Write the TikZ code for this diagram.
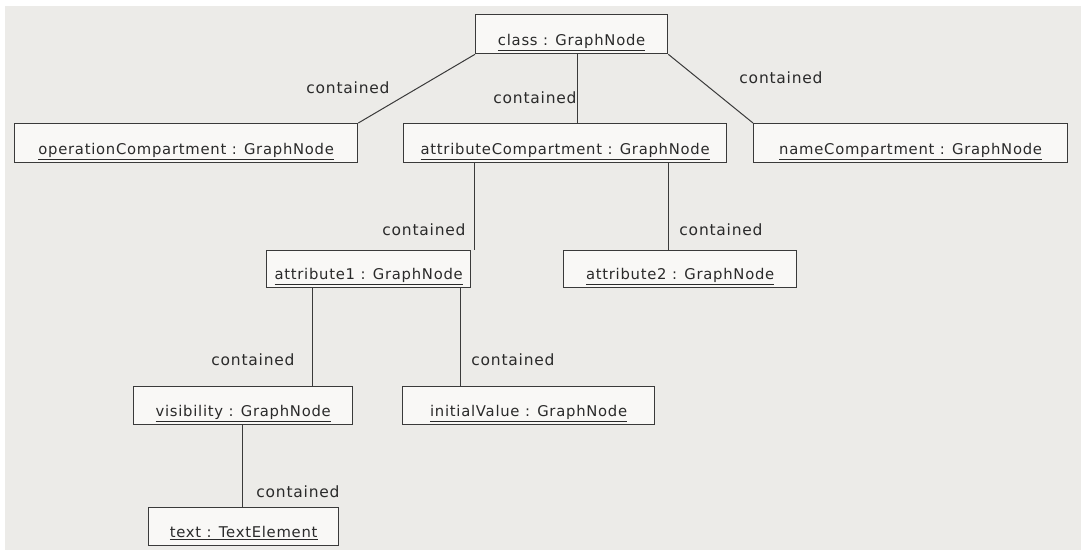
\documentclass[tikz,border=0pt]{standalone}
\usepackage{fontspec}
\setmainfont[LetterSpace=5]{DejaVu Sans}
\definecolor{bg}{HTML}{ECEBE8}
\definecolor{boxfill}{HTML}{F9F8F6}
\definecolor{edge}{HTML}{3A3A3A}
\definecolor{txt}{HTML}{2A2A2A}
\begin{document}
\begin{tikzpicture}[x=1pt,y=-1pt,
  obj/.style={draw=edge, line width=1.3pt, fill=boxfill, inner sep=0pt, anchor=north west},
  objtext/.style={anchor=base, inner sep=0pt, font=\fontsize{14.8}{17}\selectfont, text=txt},
  lbl/.style={inner sep=0pt, font=\fontsize{15.5}{17}\selectfont, text=txt},
  conn/.style={draw=edge, line width=1pt}]
\useasboundingbox (0,0) rectangle (1081,550);
\fill[white] (0,0) rectangle (1081,550);
\fill[bg] (5,6) rectangle (1081,550);
% boxes
\node[obj, minimum width=192pt, minimum height=39pt] (class) at (475,14) {};
\node[obj, minimum width=343pt, minimum height=39pt] (opc) at (14,123) {};
\node[obj, minimum width=323pt, minimum height=39pt] (atc) at (403,123) {};
\node[obj, minimum width=314pt, minimum height=39pt] (nmc) at (753,123) {};
\node[obj, minimum width=204pt, minimum height=37pt] (at1) at (266,250) {};
\node[obj, minimum width=233pt, minimum height=37pt] (at2) at (563,250) {};
\node[obj, minimum width=219pt, minimum height=38pt] (vis) at (133,386) {};
\node[obj, minimum width=252pt, minimum height=38pt] (ini) at (402,386) {};
\node[obj, minimum width=190pt, minimum height=38pt] (txe) at (148,507) {};
% texts
\node[objtext] (tclass) at ([yshift=9pt]class.south) {\underline{class : GraphNode}};
\node[objtext] (topc) at ([yshift=9pt]opc.south) {\underline{operationCompartment : GraphNode}};
\node[objtext] (tatc) at ([yshift=9pt]atc.south) {\underline{attributeCompartment : GraphNode}};
\node[objtext] (tnmc) at ([yshift=9pt]nmc.south) {\underline{nameCompartment : GraphNode}};
\node[objtext] (tat1) at ([yshift=9pt]at1.south) {\underline{attribute1 : GraphNode}};
\node[objtext] (tat2) at ([yshift=9pt]at2.south) {\underline{attribute2 : GraphNode}};
\node[objtext] (tvis) at ([yshift=9pt]vis.south) {\underline{visibility : GraphNode}};
\node[objtext] (tini) at ([yshift=9pt]ini.south) {\underline{initialValue : GraphNode}};
\node[objtext] (ttxe) at ([yshift=9pt]txe.south) {\underline{text : TextElement}};
% x positions of vertical connectors
\coordinate (xa) at (577,0);
\coordinate (xb) at (474,0);
\coordinate (xc) at (668,0);
\coordinate (xd) at (312,0);
\coordinate (xe) at (460,0);
\coordinate (xf) at (242,0);
% connectors
\draw[conn] (class.south west) -- (opc.north east);
\draw[conn] (class.south -| xa) -- (atc.north -| xa);
\draw[conn] (class.south east) -- (nmc.north west);
\draw[conn] (atc.south -| xb) -- (at1.north -| xb);
\draw[conn] (atc.south -| xc) -- (at2.north -| xc);
\draw[conn] (at1.south -| xd) -- (vis.north -| xd);
\draw[conn] (at1.south -| xe) -- (ini.north -| xe);
\draw[conn] (vis.south -| xf) -- (txe.north -| xf);
% labels
\node[lbl] (l1) at (348,88) {contained};
\node[lbl] (l2) at (535,98) {contained};
\node[lbl] (l3) at (781,78) {contained};
\node[lbl] (l4) at (424,230) {contained};
\node[lbl] (l5) at (721,230) {contained};
\node[lbl] (l6) at (253,360) {contained};
\node[lbl] (l7) at (513,360) {contained};
\node[lbl] (l8) at (298,492) {contained};
\end{tikzpicture}
\end{document}
